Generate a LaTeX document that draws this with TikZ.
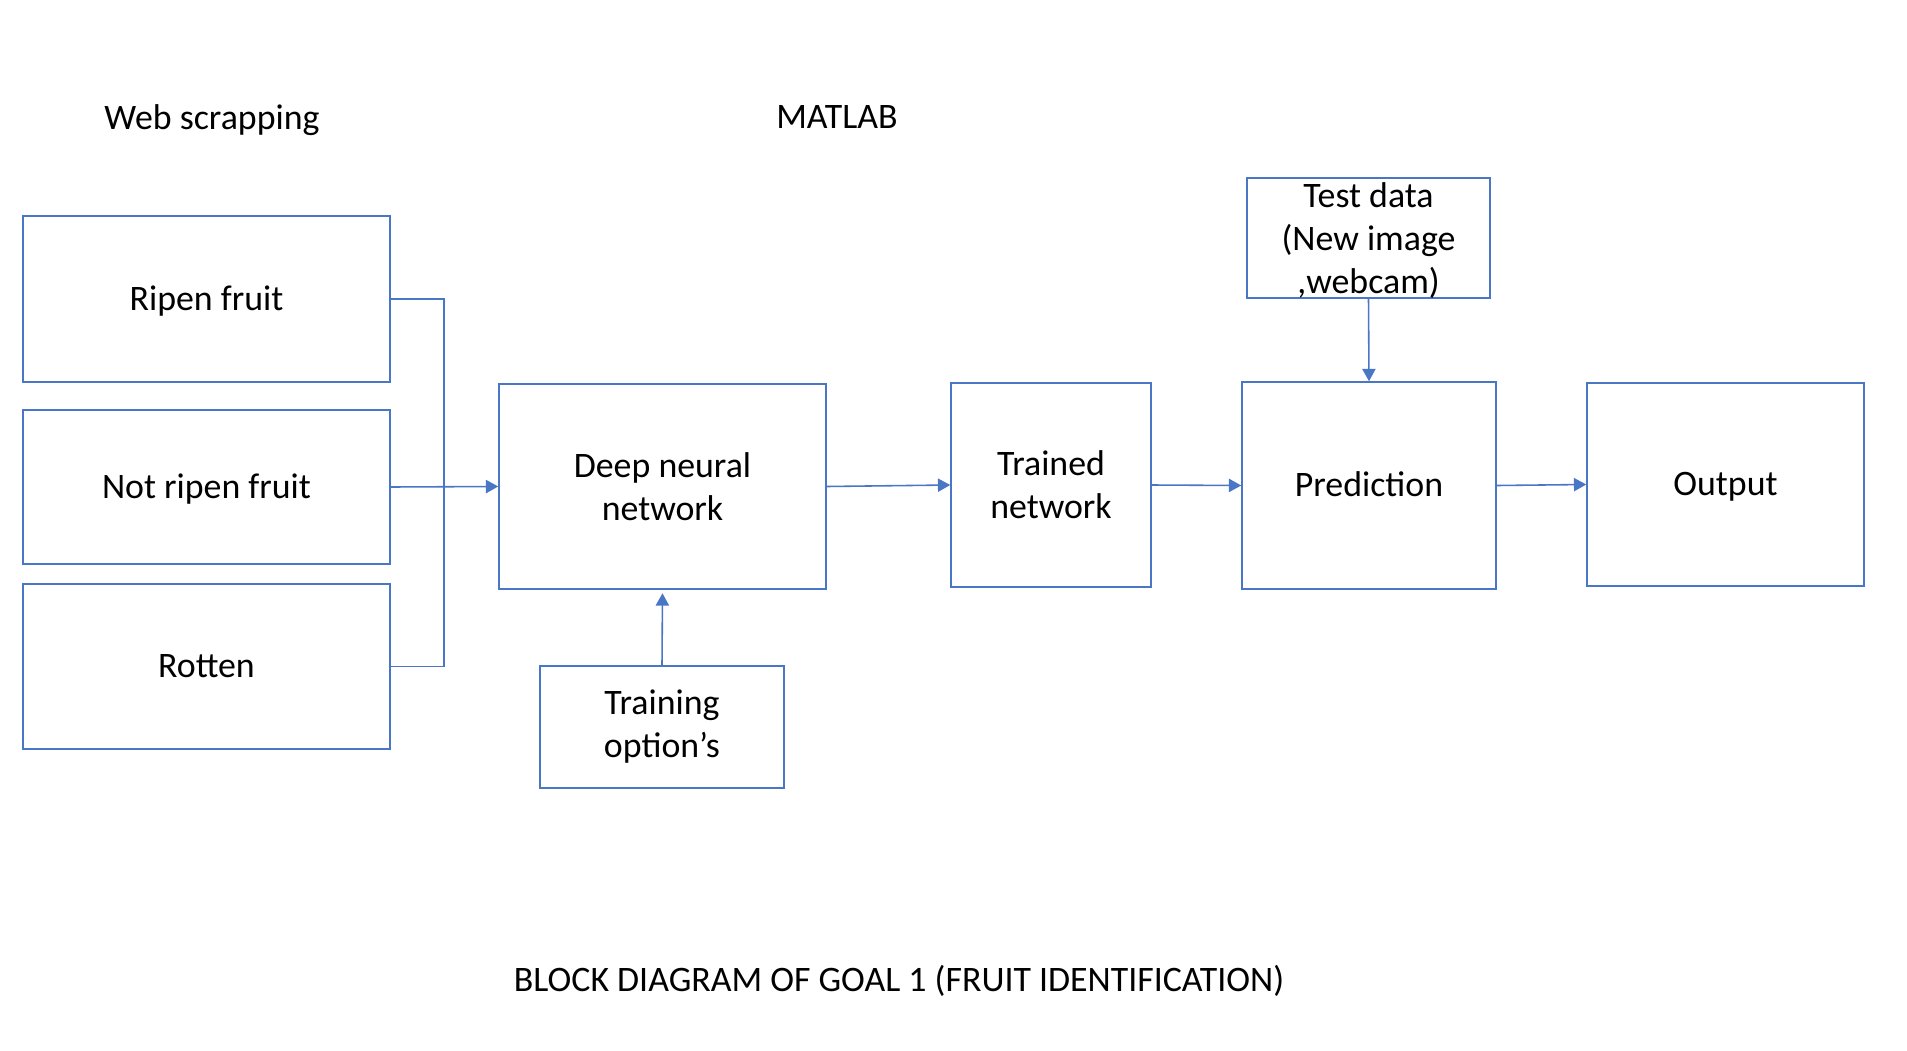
\documentclass[tikz,border=0pt]{standalone}
\usepackage{fontspec}
\setmainfont{Carlito}
\usetikzlibrary{arrows.meta}
\definecolor{officeblue}{HTML}{4A76C6}
\begin{document}
\begin{tikzpicture}[x=0.02cm,y=-0.02cm,
        block/.style={draw=officeblue,line width=0.9pt,align=center,inner sep=0pt,
                      font=\fontsize{20.4}{24.5}\selectfont},
        single/.style={text height=16pt,text depth=3pt},
        link/.style={draw=officeblue,line width=0.9pt},
        arr/.style={link,-{Triangle[width=7.5pt,length=7pt]}},
        caption/.style={font=\fontsize{20.4}{24.5}\selectfont}]
        \useasboundingbox (0,0) rectangle (1907,1051);

        % Headings
        \node[caption] (webhead) at (212,120) {Web scrapping};
        \node[caption] (matlabhead) at (837,117) {MATLAB};

        % Input classes
        \node[block,single,minimum width=7.34cm,minimum height=3.32cm] (ripen) at (206.5,299) {Ripen fruit};
        \node[block,single,minimum width=7.34cm,minimum height=3.08cm] (notripen) at (206.5,487) {Not ripen fruit};
        \node[block,single,minimum width=7.34cm,minimum height=3.3cm] (rotten) at (206.5,666.5) {Rotten};

        % Training chain
        \node[block,minimum width=6.54cm,minimum height=4.1cm] (dnn) at (662.5,486.5) {Deep neural\\network};
        \node[block,minimum width=4.88cm,minimum height=2.44cm] (options) at (662,727) {Training\\option’s};
        \node[block,minimum width=4cm,minimum height=4.08cm] (trained) at (1051,485) {Trained\\network};
        \node[block,minimum width=4.86cm,minimum height=2.4cm,text depth=0pt] (testdata) at (1368.5,238) {Test data\\(New image\\,webcam)};
        \node[block,single,minimum width=5.08cm,minimum height=4.14cm] (prediction) at (1369,485.5) {Prediction};
        \node[block,single,minimum width=5.54cm,minimum height=4.06cm] (output) at (1725.5,484.5) {Output};

        % Connectors
        \coordinate (bus) at (444,487);
        \draw[link] (ripen.east) -| (bus) |- (rotten.east);
        \draw[arr] (notripen.east) -- (dnn.west);
        \draw[arr,shorten >=2pt] (options.north) -- (dnn.south);
        \draw[arr] (dnn.east) -- (trained.west);
        \draw[arr] (trained.east) -- (prediction.west);
        \draw[arr] (testdata.south) -- (prediction.north);
        \draw[arr] (prediction.east) -- (output.west);

        % Caption
        \node[caption] (title) at (899,981) {BLOCK DIAGRAM OF GOAL 1 (FRUIT IDENTIFICATION)};
    \end{tikzpicture}
\end{document}
